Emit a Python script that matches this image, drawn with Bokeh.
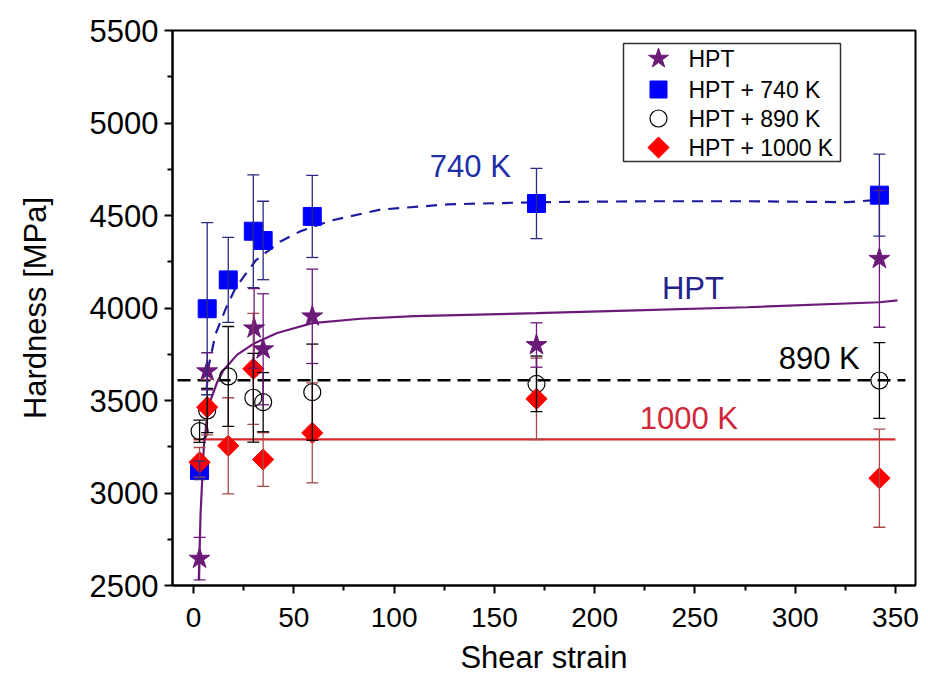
import numpy as np
from bokeh.plotting import figure
from bokeh.models import Range1d, Whisker, TeeHead, ColumnDataSource, Label, FixedTicker
from bokeh.embed import file_html
from bokeh.resources import INLINE
from bokeh.core.properties import value

# ---------------- data ----------------
strain = [3, 6.8, 17.3, 29.8, 34.7, 59.2, 171, 342]

hpt_strain = [3, 6.8, 30.2, 34.7, 59.2, 171, 342]
hpt_h = [2645, 3658, 3890, 3777, 3955, 3800, 4266]
hpt_err = [115, 100, 215, 300, 255, 120, 370]

h740 = [3122, 3996, 4152, 4415, 4365, 4495, 4565, 4610]
err740 = [50, 465, 230, 305, 212, 222, 190, 222]

h890 = [3334, 3446, 3630, 3515, 3491, 3545, 3590, 3608]
err890 = [60, 120, 270, 240, 160, 260, 150, 205]

h1000 = [3166, 3464, 3255, 3671, 3181, 3325, 3509, 3080]
err1000 = [80, 150, 260, 300, 145, 270, 220, 265]

# fitted curves
fit_hpt_x = [2.6, 3.5, 5.1, 6.5, 8.1, 11.8, 15, 21.8, 30.4, 41.7, 59.2, 83.3, 110, 171, 216, 276, 342, 351]
fit_hpt_y = [2527, 2889, 3248, 3390, 3490, 3600, 3665, 3748, 3810, 3865, 3918, 3942, 3956, 3972, 3986, 4004, 4031, 4041]

fit_740_x = [6.5, 7.6, 11, 16, 21, 31, 43.4, 53.3, 68.3, 93.2, 126.5, 171, 226, 276, 326, 342]
fit_740_y = [3560, 3689, 3860, 3995, 4110, 4257, 4360, 4415, 4472, 4532, 4560, 4572, 4577, 4577, 4572, 4585]

fit_890_x = [-8, 355]
fit_890_y = [3610, 3610]

fit_1000_x = [0, 350]
fit_1000_y = [3290, 3290]

x_ticks = [0, 50, 100, 150, 200, 250, 300, 350]
x_minor = [25, 75, 125, 175, 225, 275, 325]
y_ticks = [2500, 3000, 3500, 4000, 4500, 5000, 5500]
y_minor = [2750, 3250, 3750, 4250, 4750, 5250]

series_names = ["HPT", "HPT + 740 K", "HPT + 890 K", "HPT + 1000 K"]
curve_labels = ["740 K", "HPT", "890 K", "1000 K"]
curve_label_x = [138, 249, 312, 247]
curve_label_y = [4765, 4105, 3727, 3403]

# ---------------- styles ----------------
C_HPT = "#6B1A78"
C_HPT_TXT = "#22228A"
C_740 = "#0000FF"
C_740_LINE = "#1C1CA0"
C_740_TXT = "#2230A8"
C_1000 = "#FF0000"
C_1000_LINE = "#D9262B"
C_1000_TXT = "#D0283A"
FONT = "Liberation Sans"

FRAME_W = 928 - 172 - 13
FRAME_H = 691 - 30 - 106

p = figure(width=928, height=691, x_range=Range1d(-10.5, 360), y_range=Range1d(2500, 5500),
           output_backend="svg", toolbar_location=None,
           min_border_left=172, min_border_right=13, min_border_top=30, min_border_bottom=106)
p.background_fill_color = "white"
p.border_fill_color = "white"
p.outline_line_color = "black"
p.outline_line_width = 2
p.outline_line_alpha = 1
p.grid.visible = False

p.xaxis.ticker = FixedTicker(ticks=x_ticks, minor_ticks=x_minor)
p.yaxis.ticker = FixedTicker(ticks=y_ticks, minor_ticks=y_minor)
for ax in (p.xaxis, p.yaxis):
    ax.axis_line_width = 2
    ax.axis_line_color = "black"
    ax.major_tick_line_width = 2
    ax.minor_tick_line_width = 2
    ax.major_tick_out = 8
    ax.major_tick_in = 0
    ax.minor_tick_out = 5
    ax.minor_tick_in = 0
    ax.major_label_text_color = "black"
    ax.axis_label_text_color = "black"
    ax.axis_label_text_font_style = "normal"
    ax.major_label_text_font = FONT
    ax.axis_label_text_font = FONT

p.xaxis.major_label_text_font_size = "28px"
p.xaxis.major_label_standoff = 14
p.xaxis.axis_label = "Shear strain"
p.xaxis.axis_label_text_font_size = "31px"
p.xaxis.axis_label_standoff = 10

p.yaxis.major_label_text_font_size = "31px"
p.yaxis.major_label_standoff = 6
p.yaxis.axis_label = "Hardness [MPa]"
p.yaxis.axis_label_text_font_size = "31px"
p.yaxis.axis_label_standoff = 34

# ---------------- fitted curves ----------------
p.line(fit_890_x, fit_890_y, line_color="black", line_width=2.5, line_dash="13 7")
p.line(fit_1000_x, fit_1000_y, line_color=C_1000_LINE, line_width=2.2)
p.line(fit_740_x, fit_740_y, line_color=C_740_LINE, line_width=2.2, line_dash="11 8")
p.line(fit_hpt_x, fit_hpt_y, line_color=C_HPT, line_width=2.2)

# ---------------- error bars ----------------
def add_err(xs, ys, es, color):
    src = ColumnDataSource(dict(x=xs, upper=[y + e for y, e in zip(ys, es)],
                                lower=[y - e for y, e in zip(ys, es)]))
    w = Whisker(source=src, base="x", upper="upper", lower="lower", dimension="height",
                line_color=color, line_width=1.3, level="glyph",
                upper_head=TeeHead(size=12, line_color=color, line_width=1.3),
                lower_head=TeeHead(size=12, line_color=color, line_width=1.3))
    p.add_layout(w)

add_err(strain, h1000, err1000, "#A84A4A")
add_err(strain, h890, err890, "black")
add_err(hpt_strain, hpt_h, hpt_err, C_HPT)
add_err(strain, h740, err740, "#2A2A80")

# ---------------- markers ----------------
p.scatter(hpt_strain, hpt_h, marker="star", size=22, fill_color=C_HPT, line_color=C_HPT)
p.scatter(strain, h740, marker="square", size=18, fill_color=C_740, line_color=C_740)
p.scatter(strain, h890, marker="circle", size=17, fill_alpha=0, line_color="black", line_width=1.2)
p.scatter(strain, h1000, marker="square", angle=np.pi / 4, size=15, fill_color=C_1000, line_color=C_1000)

# ---------------- curve labels ----------------
label_colors = [C_740_TXT, C_HPT_TXT, "black", C_1000_TXT]
for t, lx, ly, c in zip(curve_labels, curve_label_x, curve_label_y, label_colors):
    p.add_layout(Label(x=lx, y=ly, text=t, text_align="center", text_baseline="middle",
                       text_font=FONT, text_font_size="31px", text_color=c))

# ---------------- legend (drawn in frame pixel coordinates) ----------------
p.extra_x_ranges = {"px": Range1d(0, FRAME_W)}
p.extra_y_ranges = {"px": Range1d(0, FRAME_H)}
leg_left, leg_right, leg_top, leg_bottom = 451, 668, 542, 424
p.quad(left=[leg_left], right=[leg_right], top=[leg_top], bottom=[leg_bottom],
       x_range_name="px", y_range_name="px", fill_color="white", line_color="#333333", line_width=1.5)
leg_y = [527, 496, 467, 438]
glyph_x = 486
text_x = 516
p.scatter([glyph_x], [leg_y[0]], marker="star", size=21, fill_color=C_HPT, line_color=C_HPT,
          x_range_name="px", y_range_name="px")
p.scatter([glyph_x], [leg_y[1]], marker="square", size=17, fill_color=C_740, line_color=C_740,
          x_range_name="px", y_range_name="px")
p.scatter([glyph_x], [leg_y[2]], marker="circle", size=17, fill_alpha=0, line_color="black", line_width=1.2,
          x_range_name="px", y_range_name="px")
p.scatter([glyph_x], [leg_y[3]], marker="square", angle=np.pi / 4, size=15, fill_color=C_1000,
          line_color=C_1000, x_range_name="px", y_range_name="px")
p.text([text_x] * 4, leg_y, text=series_names, x_range_name="px", y_range_name="px",
       text_font=value(FONT), text_font_size=value("23px"), text_baseline="middle",
       text_align="left", text_color="black")

open("out.html", "w").write(file_html(p, INLINE))
